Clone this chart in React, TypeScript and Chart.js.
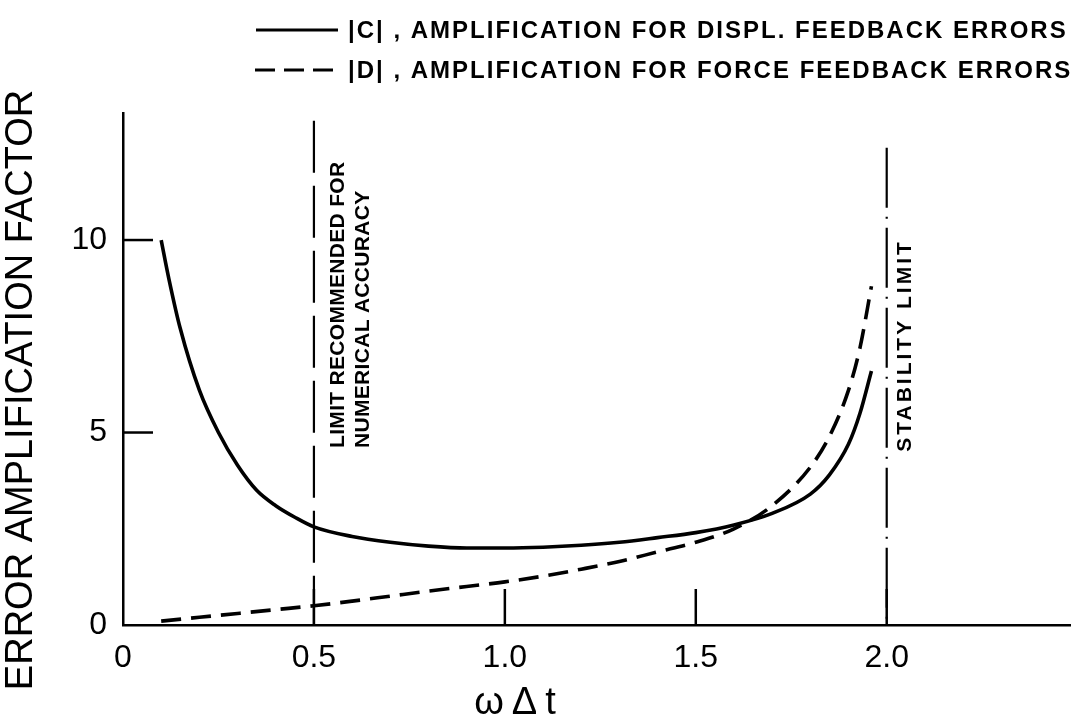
import React, { useEffect, useRef } from 'react';
import { Chart, registerables } from 'chart.js';

Chart.register(...registerables);

// ω∆t sample points and the two error-amplification factors
const OMEGA_DT_C = [0.1, 0.12, 0.15, 0.2, 0.25, 0.3, 0.35, 0.4, 0.45, 0.5, 0.6, 0.7, 0.8, 0.9, 1.0, 1.1, 1.2, 1.3, 1.4, 1.5, 1.6, 1.7, 1.8, 1.85, 1.9, 1.93, 1.96];
const C_AMPLIFICATION = [10, 9.0, 7.7, 6.1, 5.0, 4.15, 3.5, 3.1, 2.8, 2.55, 2.3, 2.15, 2.05, 2.0, 2.0, 2.02, 2.07, 2.15, 2.27, 2.4, 2.6, 2.9, 3.4, 3.9, 4.7, 5.5, 6.6];

const OMEGA_DT_D = [0.1, 0.2, 0.3, 0.4, 0.5, 0.6, 0.7, 0.8, 0.9, 1.0, 1.1, 1.2, 1.3, 1.4, 1.5, 1.6, 1.7, 1.8, 1.85, 1.9, 1.93, 1.96];
const D_AMPLIFICATION = [0.1, 0.2, 0.3, 0.4, 0.5, 0.62, 0.75, 0.88, 1.0, 1.12, 1.27, 1.45, 1.65, 1.9, 2.15, 2.5, 3.1, 4.1, 4.9, 6.1, 7.2, 8.8];

const X_TICKS = [0, 0.5, 1.0, 1.5, 2.0];
const X_TICK_LABELS = ['0', '0.5', '1.0', '1.5', '2.0'];
const Y_TICKS = [0, 5, 10];
const Y_TICK_LABELS = ['0', '5', '10'];

const X_MAX = 2.48;
const Y_MAX = 13.3;

// vertical limit lines: position on ω∆t and the value where each starts at the top
const ACCURACY_LIMIT = 0.5;
const ACCURACY_LIMIT_TOP = 13.1;
const STABILITY_LIMIT = 2.0;
const STABILITY_LIMIT_TOP = 12.4;

const LEGEND_C = '|C| , AMPLIFICATION FOR DISPL. FEEDBACK ERRORS';
const LEGEND_D = '|D| , AMPLIFICATION FOR FORCE FEEDBACK ERRORS';
const ACCURACY_TEXT_1 = 'LIMIT RECOMMENDED FOR';
const ACCURACY_TEXT_2 = 'NUMERICAL ACCURACY';
const STABILITY_TEXT = 'STABILITY LIMIT';
const X_TITLE = 'ωΔt';
const Y_TITLE = 'ERROR AMPLIFICATION FACTOR';

const INK = '#000';
const LABEL_FONT = '"Liberation Sans", Arial, sans-serif';

const annotations = {
  id: 'annotations',
  afterDraw(chart: any) {
    const { ctx, chartArea, scales } = chart;
    const x = scales.x;
    const y = scales.y;
    const seg = (x1: number, y1: number, x2: number, y2: number) => {
      ctx.beginPath();
      ctx.moveTo(x1, y1);
      ctx.lineTo(x2, y2);
      ctx.stroke();
    };
    const spacing = (px: number) => {
      (ctx as any).letterSpacing = `${px}px`;
    };
    ctx.save();
    ctx.strokeStyle = INK;
    ctx.fillStyle = INK;
    ctx.lineCap = 'butt';

    // inward tick marks
    ctx.lineWidth = 2.5;
    Y_TICKS.filter((v) => v > 0).forEach((v) => {
      const py = y.getPixelForValue(v);
      seg(chartArea.left, py, chartArea.left + 30, py);
    });
    X_TICKS.filter((v) => v > 0).forEach((v) => {
      const px = x.getPixelForValue(v);
      seg(px, chartArea.bottom, px, chartArea.bottom - 36);
    });

    // accuracy limit (long dashes)
    ctx.lineWidth = 2.2;
    ctx.setLineDash([52, 13]);
    const ax = x.getPixelForValue(ACCURACY_LIMIT);
    seg(ax, y.getPixelForValue(ACCURACY_LIMIT_TOP), ax, chartArea.bottom);

    // stability limit (dash-dot)
    ctx.setLineDash([60, 9, 2, 9]);
    const sx = x.getPixelForValue(STABILITY_LIMIT);
    seg(sx, y.getPixelForValue(STABILITY_LIMIT_TOP), sx, chartArea.bottom);
    ctx.setLineDash([]);

    // rotated captions beside the limit lines
    ctx.font = `bold 21px ${LABEL_FONT}`;
    ctx.textAlign = 'left';
    ctx.textBaseline = 'middle';
    spacing(0.3);
    ctx.save();
    ctx.translate(ax + 24, y.getPixelForValue(4.6));
    ctx.rotate(-Math.PI / 2);
    ctx.fillText(ACCURACY_TEXT_1, 0, 0);
    ctx.fillText(ACCURACY_TEXT_2, 0, 25);
    ctx.restore();

    spacing(3);
    ctx.save();
    ctx.translate(sx + 18, y.getPixelForValue(4.5));
    ctx.rotate(-Math.PI / 2);
    ctx.fillText(STABILITY_TEXT, 0, 0);
    ctx.restore();

    // axis titles
    spacing(0);
    ctx.font = `38px ${LABEL_FONT}`;
    ctx.textAlign = 'center';
    ctx.save();
    ctx.translate(22, 390);
    ctx.rotate(-Math.PI / 2);
    ctx.fillText(Y_TITLE, 0, 0);
    ctx.restore();

    ctx.font = `38px ${LABEL_FONT}`;
    spacing(8);
    ctx.fillText(X_TITLE, 519, 704);
    spacing(0);

    // legend
    ctx.lineWidth = 3;
    seg(256, 30, 338, 30);
    ctx.setLineDash([20, 9]);
    seg(255, 70, 340, 70);
    ctx.setLineDash([]);
    ctx.font = `bold 24px ${LABEL_FONT}`;
    ctx.textAlign = 'left';
    spacing(2);
    ctx.fillText(LEGEND_C, 348, 31);
    ctx.fillText(LEGEND_D, 348, 71);
    spacing(0);

    ctx.restore();
  },
};

export default function App() {
  const canvasRef = useRef<HTMLCanvasElement>(null);

  useEffect(() => {
    const canvas = canvasRef.current;
    if (!canvas) return;
    const chart = new Chart(canvas, {
      type: 'line',
      data: {
        datasets: [
          {
            label: '|C|',
            data: OMEGA_DT_C.map((v, i) => ({ x: v, y: C_AMPLIFICATION[i] })),
            borderColor: INK,
            borderWidth: 3.6,
            pointRadius: 0,
            fill: false,
            cubicInterpolationMode: 'monotone',
          },
          {
            label: '|D|',
            data: OMEGA_DT_D.map((v, i) => ({ x: v, y: D_AMPLIFICATION[i] })),
            borderColor: INK,
            borderWidth: 3.6,
            borderDash: [20, 10],
            pointRadius: 0,
            fill: false,
            cubicInterpolationMode: 'monotone',
          },
        ],
      },
      options: {
        responsive: false,
        animation: false,
        layout: { padding: { top: 113, right: 5, left: 0, bottom: 0 } },
        plugins: { legend: { display: false }, tooltip: { enabled: false } },
        scales: {
          x: {
            type: 'linear',
            min: 0,
            max: X_MAX,
            afterBuildTicks: (axis: any) => {
              axis.ticks = X_TICKS.map((v) => ({ value: v }));
            },
            afterFit: (scale: any) => {
              scale.height = 103;
            },
            grid: { display: false, drawTicks: false },
            border: { display: true, color: INK, width: 2.5 },
            ticks: {
              padding: 14,
              color: INK,
              maxRotation: 0,
              autoSkip: false,
              font: { family: LABEL_FONT, size: 32 },
              callback: (v: any) => X_TICK_LABELS[X_TICKS.indexOf(Number(v))] ?? '',
            },
          },
          y: {
            type: 'linear',
            min: 0,
            max: Y_MAX,
            afterBuildTicks: (axis: any) => {
              axis.ticks = Y_TICKS.map((v) => ({ value: v }));
            },
            afterFit: (scale: any) => {
              scale.width = 123;
            },
            grid: { display: false, drawTicks: false },
            border: { display: true, color: INK, width: 2.5 },
            ticks: {
              padding: 16,
              color: INK,
              font: { family: LABEL_FONT, size: 32 },
              callback: (v: any) => Y_TICK_LABELS[Y_TICKS.indexOf(Number(v))] ?? '',
            },
          },
        },
      },
      plugins: [annotations],
    });
    return () => chart.destroy();
  }, []);

  return (
    <div style={{ position: 'absolute', left: 0, top: 0, width: 1075, height: 728, background: '#fff' }}>
      <canvas ref={canvasRef} width={1075} height={728} />
    </div>
  );
}
